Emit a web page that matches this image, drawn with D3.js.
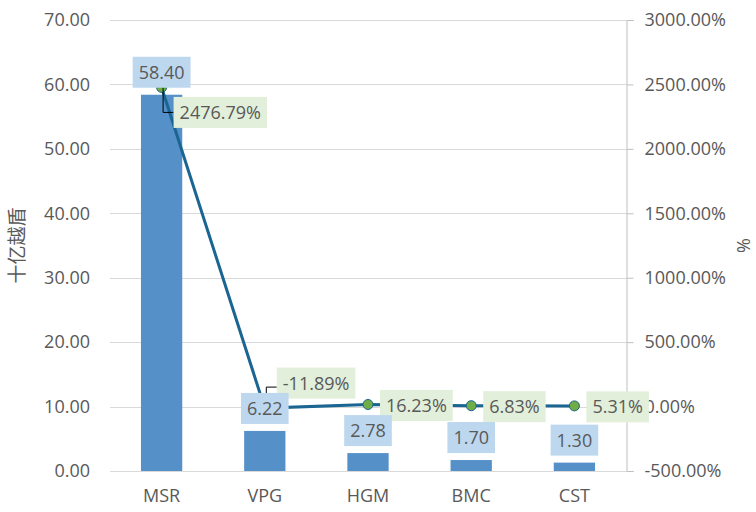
<!DOCTYPE html>
<html lang="vi">
<head>
    <meta charset="UTF-8">
    <title>MSR VPG HGM BMC CST</title>
    <script src="https://d3js.org/d3.v7.min.js"></script>
    <style>
        body {
            margin: 0;
            background: #ffffff;
        }

        svg text {
            font-family: "Open Sans", "Noto Sans CJK SC", sans-serif;
            fill: #595959;
        }

        .grid line {
            stroke: #d9d9d9;
            stroke-width: 1;
        }

        .axis-right path,
        .axis-right line {
            stroke: #bfbfbf;
        }

        .bar {
            fill: #5590c8;
        }
    </style>
</head>

<body>
    <div id="chart"></div>

    <script>
        // data
        const tickers = ["MSR", "VPG", "HGM", "BMC", "CST"];
        const revenue = [58.40, 6.22, 2.78, 1.70, 1.30];   // 十亿越盾
        const growth = [2476.79, -11.89, 16.23, 6.83, 5.31]; // %
        const leftTicks = [0, 10, 20, 30, 40, 50, 60, 70];
        const rightTicks = [-500, 0, 500, 1000, 1500, 2000, 2500, 3000];

        const W = 756, H = 512;
        const margin = { top: 20, right: 130, bottom: 41, left: 110 };
        const plotW = W - margin.left - margin.right;
        const plotH = H - margin.top - margin.bottom;

        // plain hyphen for negatives, like the original
        const fmt = d3.formatLocale({ decimal: ".", thousands: ",", grouping: [3], currency: ["", ""], minus: "-" }).format(".2f");
        const fsize = "18px";

        const svg = d3.select("#chart")
            .append("svg")
            .attr("width", W)
            .attr("height", H);

        const g = svg.append("g")
            .attr("transform", `translate(${margin.left},${margin.top})`);

        const x = d3.scaleBand()
            .domain(tickers)
            .range([0, plotW])
            .paddingInner(0.6)
            .paddingOuter(0.3);

        const y = d3.scaleLinear().domain([0, 70]).range([plotH, 0]);
        const y2 = d3.scaleLinear().domain([-500, 3000]).range([plotH, 0]);

        const cx = d => x(d) + x.bandwidth() / 2;

        // gridlines
        g.append("g")
            .attr("class", "grid")
            .selectAll("line")
            .data(leftTicks)
            .join("line")
            .attr("x1", 0)
            .attr("x2", plotW)
            .attr("y1", d => Math.round(y(d)) + 0.5)
            .attr("y2", d => Math.round(y(d)) + 0.5);

        // left axis (labels only)
        const left = g.append("g")
            .call(d3.axisLeft(y).tickValues(leftTicks).tickFormat(fmt).tickSize(0).tickPadding(20));
        left.select(".domain").remove();
        left.selectAll("text").style("font-size", fsize);

        // right axis
        const right = g.append("g")
            .attr("class", "axis-right")
            .attr("transform", `translate(${plotW + 0.5},0)`)
            .call(d3.axisRight(y2).tickValues(rightTicks)
                .tickFormat(d => fmt(d) + "%").tickSizeOuter(7).tickSizeInner(7).tickPadding(11));
        right.selectAll("text").style("font-size", fsize).attr("fill", "#595959");

        // bottom axis labels
        const bottom = g.append("g")
            .attr("transform", `translate(0,${plotH})`)
            .call(d3.axisBottom(x).tickSize(0).tickPadding(18));
        bottom.select(".domain").remove();
        bottom.selectAll("text").style("font-size", fsize);

        // axis titles
        svg.append("text")
            .attr("transform", `translate(24,${margin.top + plotH / 2}) rotate(-90)`)
            .attr("text-anchor", "middle")
            .style("font-size", "19px")
            .text("十亿越盾");

        svg.append("text")
            .attr("transform", `translate(750,${margin.top + plotH / 2}) rotate(-90)`)
            .attr("text-anchor", "middle")
            .style("font-size", "18px")
            .text("%");

        const rows = tickers.map((t, i) => ({ t, v: revenue[i], p: growth[i] }));

        // bars
        g.selectAll(".bar")
            .data(rows)
            .join("rect")
            .attr("class", "bar")
            .attr("x", d => x(d.t))
            .attr("y", d => y(d.v))
            .attr("width", x.bandwidth())
            .attr("height", d => plotH - y(d.v));

        // growth line
        g.append("path")
            .datum(rows)
            .attr("fill", "none")
            .attr("stroke", "#1b6592")
            .attr("stroke-width", 3)
            .attr("d", d3.line().x(d => cx(d.t)).y(d => y2(d.p)));

        g.selectAll(".dot")
            .data(rows)
            .join("circle")
            .attr("class", "dot")
            .attr("cx", d => cx(d.t))
            .attr("cy", d => y2(d.p))
            .attr("r", 5)
            .attr("fill", "#70ad47")
            .attr("stroke", "#1b6592")
            .attr("stroke-width", 1);

        // percent labels, a few moved off the line like the original
        const pctNudge = { MSR: 24, VPG: -26 };
        const boxH = 31;

        rows.forEach(d => {
            const mx = cx(d.t), my = y2(d.p);
            const dy = pctNudge[d.t] || 0;
            const lx = mx + 12, ly = my + dy + 1;
            const grp = g.append("g");
            const box = grp.append("rect")
                .attr("fill", "#e2efda");
            const txt = grp.append("text")
                .attr("x", lx + 6)
                .attr("y", ly)
                .attr("dy", "0.36em")
                .style("font-size", fsize)
                .text(fmt(d.p) + "%");
            const tw = txt.node().getComputedTextLength();
            box.attr("x", lx).attr("y", ly - boxH / 2)
                .attr("width", tw + 12).attr("height", boxH);
            if (dy !== 0) {
                const ty = dy > 0 ? ly : ly + 4;
                g.insert("path", () => grp.node())
                    .attr("fill", "none")
                    .attr("stroke", "#000")
                    .attr("stroke-width", 1)
                    .attr("d", `M${mx + 1.5},${my}V${ty}H${lx}`);
            }
        });

        // value labels above bars
        rows.forEach(d => {
            const mx = cx(d.t);
            const bottomY = y(d.v) - 7;
            const grp = g.append("g");
            const box = grp.append("rect").attr("fill", "#bdd7ee");
            const txt = grp.append("text")
                .attr("x", mx)
                .attr("y", bottomY - boxH / 2)
                .attr("dy", "0.36em")
                .attr("text-anchor", "middle")
                .style("font-size", fsize)
                .text(fmt(d.v));
            const tw = txt.node().getComputedTextLength();
            box.attr("x", mx - tw / 2 - 6).attr("y", bottomY - boxH)
                .attr("width", tw + 12).attr("height", boxH);
        });
    </script>
</body>

</html>
